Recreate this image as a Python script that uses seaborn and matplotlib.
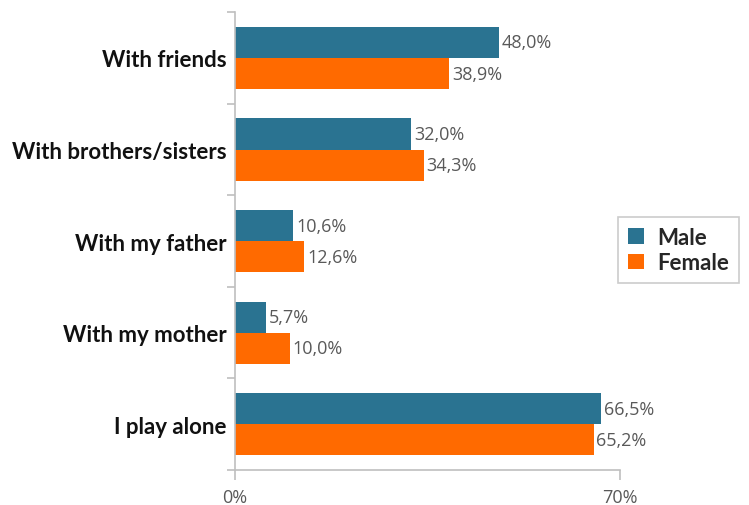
import matplotlib
matplotlib.use("Agg")
import matplotlib.pyplot as plt
import seaborn as sns
import pandas as pd

categories = ["With friends", "With brothers/sisters", "With my father",
              "With my mother", "I play alone"]
male = [48.0, 32.0, 10.6, 5.7, 66.5]
female = [38.9, 34.3, 12.6, 10.0, 65.2]
series = ["Male", "Female"]
x_ticks = [0, 70]
x_tick_labels = ["0%", "70%"]

colors = {"Male": "#2a7391", "Female": "#ff6a00"}

df = pd.DataFrame({
    "category": categories * 2,
    "value": male + female,
    "sex": ["Male"] * len(categories) + ["Female"] * len(categories),
})

sns.set_style("white")
plt.rcParams["font.family"] = ["Lato", "DejaVu Sans"]

fig = plt.figure(figsize=(7.49, 5.06), dpi=100)
ax = fig.add_axes([0.3138, 0.0692, 0.5140, 0.9048])

sns.barplot(data=df, y="category", x="value", hue="sex", orient="h",
            order=categories, hue_order=series, palette=colors,
            width=0.68, saturation=1, linewidth=0, ax=ax, legend=True)

for cont in ax.containers:
    ax.bar_label(cont, labels=[f"{v:.1f}%".replace(".", ",") for v in cont.datavalues],
                 padding=2, color="#595959", fontsize=13, family="Open Sans")

ax.set_xlim(0, 70)
ax.set_ylim(len(categories) - 0.5, -0.5)
ax.set_xticks(x_ticks)
ax.set_xticklabels(x_tick_labels, color="#595959", fontsize=13, family="Open Sans")
ax.set_yticks(range(len(categories)))
ax.set_yticklabels(categories, fontsize=16, fontweight="bold", color="#111111")
ax.set_yticks([i - 0.5 for i in range(len(categories) + 1)], minor=True)
ax.tick_params(axis="y", which="major", left=False, length=0, pad=6)
ax.tick_params(axis="y", which="minor", left=True, length=6, color="#bfbfbf", width=1.2,
               direction="out")
ax.tick_params(axis="x", bottom=True, length=7, color="#bfbfbf", width=1.2,
               direction="out", pad=6)
ax.set_xlabel("")
ax.set_ylabel("")

for side in ["top", "right"]:
    ax.spines[side].set_visible(False)
for side in ["left", "bottom"]:
    ax.spines[side].set_color("#bfbfbf")
    ax.spines[side].set_linewidth(1.2)

handles, labels = ax.get_legend_handles_labels()
ax.legend_.remove()
leg = fig.legend(handles, labels, loc="upper left", bbox_to_anchor=(618 / 749, 1 - 218 / 506),
                 borderaxespad=0, frameon=True, fancybox=False, edgecolor="#bfbfbf",
                 handlelength=0.7, handleheight=0.7, handletextpad=0.6, borderpad=0.45,
                 labelspacing=0.2,
                 prop={"weight": "bold", "size": 16, "family": ["Lato", "DejaVu Sans"]})
leg.get_frame().set_linewidth(1.2)

fig.savefig("out.png", dpi=100)
